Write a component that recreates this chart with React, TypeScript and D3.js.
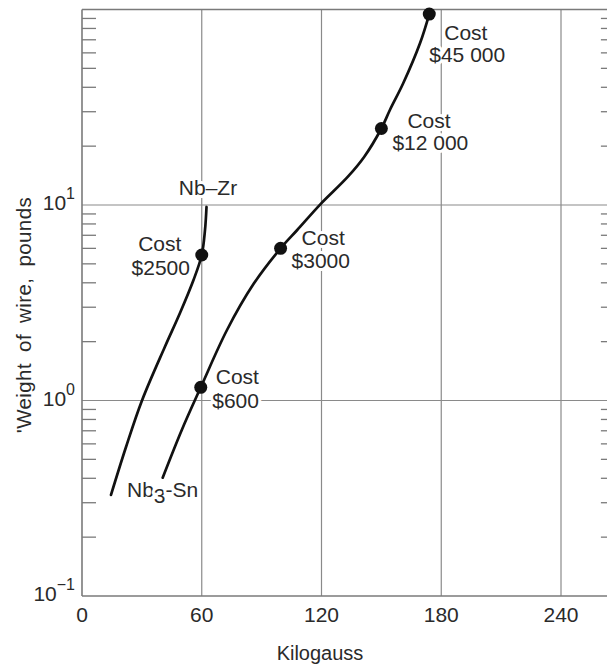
import React from "react";
import * as d3 from "d3";

// Data
const nbZrField = [14.53, 22.05, 30.06, 41.49, 49.1, 55.87, 60, 61.63, 62.38];
const nbZrWeight = [0.329, 0.578, 1.0, 1.878, 2.803, 4.134, 5.55, 7.45, 9.77];

const nb3SnField = [40.43, 50.0, 59.5, 72.65, 86.0, 99.5, 107.83, 119.4, 133.23, 141.44, 150, 154.27, 160.94, 169.35, 174];
const nb3SnWeight = [0.403, 0.707, 1.168, 2.294, 3.95, 6.0, 7.45, 10.08, 13.96, 17.66, 24.62, 30.61, 41.93, 67.17, 94.8];

const costField = [60, 59.5, 99.5, 150, 174];
const costWeight = [5.55, 1.168, 6.0, 24.62, 94.8];
const costLabels = ["$2500", "$600", "$3000", "$12 000", "$45 000"];

const xTickValues = [0, 60, 120, 180, 240];
const yExponents = [-1, 0, 1];
const minorMultipliers = [2, 3, 4, 5, 6, 7, 8, 9];

const W = 607;
const H = 667;
const FONT = "'Liberation Sans', Arial, sans-serif";

export default function App() {
  const x = d3.scaleLinear().domain([0, 240]).range([82, 561]);
  const y = d3.scaleLog().domain([0.1, 100]).range([596, 9.5]);
  const xRightAxis = x(264);
  const left = x(0);
  const top = y(100);
  const bottom = y(0.1);

  const line = d3
    .line<[number, number]>()
    .x((d) => x(d[0]))
    .y((d) => y(d[1]))
    .curve(d3.curveCatmullRom.alpha(0.5));

  const nbZr = nbZrField.map((f, i) => [f, nbZrWeight[i]] as [number, number]);
  const nb3Sn = nb3SnField.map((f, i) => [f, nb3SnWeight[i]] as [number, number]);

  const minorValues: number[] = [];
  for (const e of yExponents) {
    for (const m of minorMultipliers) minorValues.push(m * Math.pow(10, e));
  }

  // label layout offsets relative to the markers
  const labelLayout = [
    { anchor: "middle", c: [-42, -4], v: [-41, 20] },
    { anchor: "start", c: [15, -3], v: [11.5, 20.5] },
    { anchor: "start", c: [21, -3], v: [11, 20] },
    { anchor: "start", c: [26, -1], v: [11, 21] },
    { anchor: "start", c: [15, 26], v: [0, 48] },
  ];

  const gridColor = "#8a8a8a";
  const axisColor = "#7a7a7a";
  const textColor = "#2a2a2a";
  const halo = {
    stroke: "white",
    strokeWidth: 6,
    paintOrder: "stroke" as const,
    strokeLinejoin: "round" as const,
  };

  return (
    <svg
      width={W}
      height={H}
      style={{ position: "absolute", left: 0, top: 0, background: "white" }}
      fontFamily={FONT}
    >
      <rect x={0} y={0} width={W} height={H} fill="white" />
      {/* vertical grid lines */}
      {xTickValues.slice(1).map((v) => (
        <line key={"vg" + v} x1={x(v)} x2={x(v)} y1={top} y2={bottom} stroke={gridColor} strokeWidth={1.2} />
      ))}
      {/* horizontal grid lines */}
      {[1, 10].map((v) => (
        <line key={"hg" + v} x1={left} x2={W} y1={y(v)} y2={y(v)} stroke={gridColor} strokeWidth={1.2} />
      ))}
      {/* frame */}
      <line x1={left} x2={W} y1={top} y2={top} stroke={axisColor} strokeWidth={1.5} />
      <line x1={left} x2={W} y1={bottom} y2={bottom} stroke={axisColor} strokeWidth={1.6} />
      <line x1={left} x2={left} y1={top} y2={bottom} stroke={axisColor} strokeWidth={1.6} />
      <line x1={xRightAxis} x2={xRightAxis} y1={top} y2={bottom} stroke={axisColor} strokeWidth={1.6} />
      {/* minor ticks */}
      {minorValues.map((v, i) => (
        <g key={"mt" + i}>
          <line x1={left} x2={left + 14} y1={y(v)} y2={y(v)} stroke={axisColor} strokeWidth={1.3} />
          <line x1={xRightAxis - 8} x2={xRightAxis} y1={y(v)} y2={y(v)} stroke={axisColor} strokeWidth={1.3} />
        </g>
      ))}
      {/* x tick labels */}
      {xTickValues.map((v) => (
        <text key={"xt" + v} x={x(v)} y={622} textAnchor="middle" fontSize={21} fill={textColor}>
          {v}
        </text>
      ))}
      {/* y tick labels */}
      {yExponents.map((e) => (
        <text key={"yt" + e} x={75} y={y(Math.pow(10, e)) + 5} textAnchor="end" fontSize={21} fill={textColor}>
          10
          <tspan dy={-11} fontSize={16}>
            {e < 0 ? "\u2212" + Math.abs(e) : String(e)}
          </tspan>
        </text>
      ))}
      {/* axis titles */}
      <text x={320} y={660} textAnchor="middle" fontSize={20} fill={textColor}>
        Kilogauss
      </text>
      <text
        transform={`translate(31, 315) rotate(-90)`}
        textAnchor="middle"
        fontSize={20.5}
        fill={textColor}
        style={{ wordSpacing: "5px", letterSpacing: "0.4px" }}
      >
        {"'Weight of wire, pounds"}
      </text>
      {/* labels with halos (drawn before curves) */}
      {costLabels.map((lab, i) => {
        const mx = x(costField[i]);
        const my = y(costWeight[i]);
        const L = labelLayout[i];
        return (
          <g key={"cl" + i} fontSize={21} fill={textColor}>
            <text x={mx + L.c[0]} y={my + L.c[1]} textAnchor={L.anchor} {...halo}>
              Cost
            </text>
            <text x={mx + L.v[0]} y={my + L.v[1]} textAnchor={L.anchor} {...halo}>
              {lab}
            </text>
          </g>
        );
      })}
      <text x={208} y={195} textAnchor="middle" fontSize={21} fill={textColor} {...halo}>
        Nb–Zr
      </text>
      <text x={127} y={497} fontSize={21} fill={textColor} {...halo}>
        Nb
        <tspan dy={6}>3</tspan>
        <tspan dy={-6}>-Sn</tspan>
      </text>
      {/* curves */}
      <path d={line(nbZr) || ""} fill="none" stroke="#111" strokeWidth={2.7} strokeLinecap="round" />
      <path d={line(nb3Sn) || ""} fill="none" stroke="#111" strokeWidth={2.7} strokeLinecap="round" />
      {/* markers */}
      {costField.map((f, i) => (
        <circle key={"m" + i} cx={x(f)} cy={y(costWeight[i])} r={6.5} fill="#111" />
      ))}
    </svg>
  );
}
